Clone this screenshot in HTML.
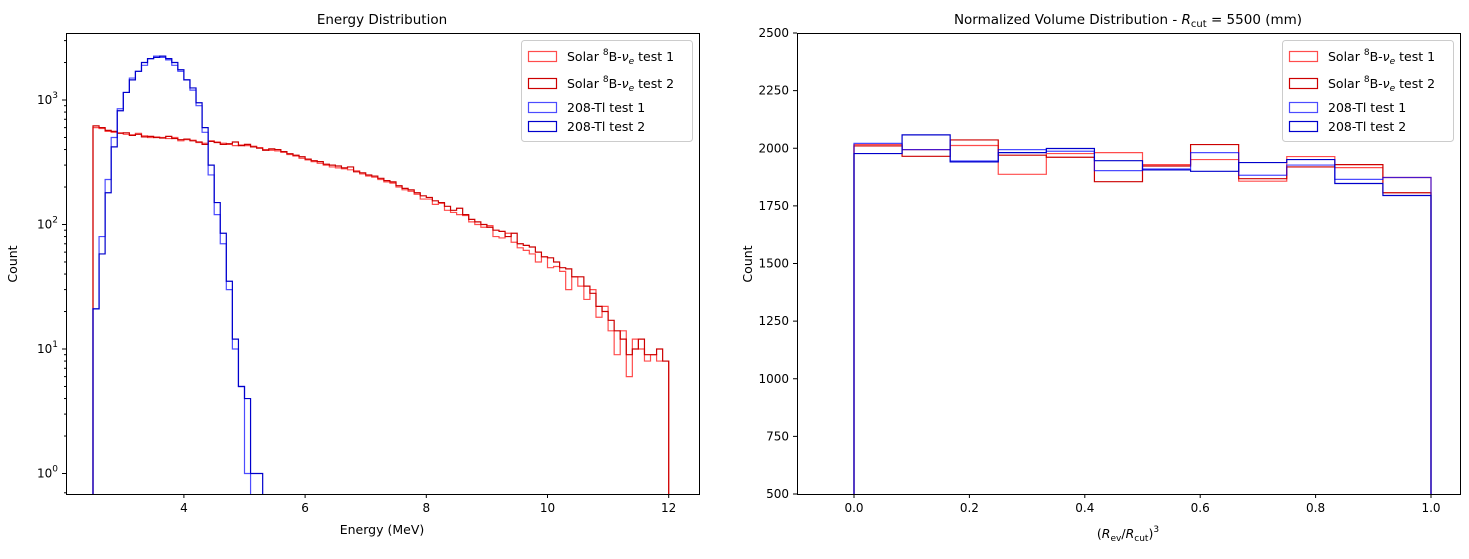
<!DOCTYPE html>
<html><head><meta charset="utf-8"><style>
body{margin:0;background:#fff;}
svg text{font-family:"DejaVu Sans","Liberation Sans",sans-serif;fill:#000;}
</style></head><body>
<svg id="fig" width="1469" height="554" xmlns="http://www.w3.org/2000/svg">
<rect width="1469" height="554" fill="#fff"/>
</svg>
<script>
// ---- data: energy histogram (bins of 0.1 MeV starting at 2.5)
const eStart = 2.5, eWidth = 0.1;
const solar1 = [600,590,560,550,545,530,525,540,515,500,505,500,490,500,470,480,475,455,450,470,460,450,440,430,435,430,425,415,400,395,390,380,365,355,340,330,320,310,300,290,285,280,275,270,255,245,240,230,220,215,200,190,185,175,160,160,145,148,130,125,120,118,105,100,95,98,80,78,85,72,65,62,58,50,55,45,46,42,30,38,32,25,30,18,22,14,9,14,6,12,10,8,9,8,8];
const solar2 = [620,600,570,560,540,545,520,530,505,510,500,495,510,490,480,485,470,460,440,465,455,440,445,460,430,440,420,410,395,405,400,385,370,360,350,335,325,320,305,300,295,285,290,265,260,250,245,235,225,220,205,195,190,180,170,165,155,150,140,130,135,120,110,105,100,95,90,88,80,85,70,68,66,60,55,54,50,45,44,38,38,32,28,22,20,17,14,12,9,10,12,9,9,10,8];
const tl1 = [21,80,230,500,850,1150,1500,1700,1900,2150,2250,2200,2100,1900,1700,1450,1200,900,550,250,120,70,30,10,5,1];
const tl2 = [21,58,180,420,820,1150,1450,1700,2000,2150,2200,2250,2150,2000,1750,1450,1250,950,600,300,150,85,35,12,5,4,1,1];
const eTicks = [4,6,8,10,12];
const logTicks = [0,1,2,3];
// ---- data: volume histogram (12 bins over 0..1)
const vol1 = [2016,1994,2012,1887,1977,1981,1929,1951,1857,1964,1916,1873];
const vol2 = [2010,1965,2036,1970,1961,1855,1923,2016,1868,1919,1929,1807];
const volTl1 = [2021,1994,1945,1994,1987,1903,1910,1981,1883,1927,1865,1873];
const volTl2 = [1977,2058,1941,1981,1999,1946,1906,1900,1938,1951,1847,1795];
const vTicksX = [0,0.2,0.4,0.6,0.8,1.0];
const vTicksY = [500,750,1000,1250,1500,1750,2000,2250,2500];

const NS="http://www.w3.org/2000/svg";
const svg=document.getElementById('fig');
function mk(tag,attrs,parent){const e=document.createElementNS(NS,tag);for(const k in attrs)e.setAttribute(k,attrs[k]);(parent||svg).appendChild(e);return e;}

const L={x0:66,x1:699,y0:33,y1:494};
const ex=e=>93+(e-2.5)*60.6;
const ly=v=>100-124.5*(Math.log10(v)-3);
const R={x0:797,x1:1460,y0:33,y1:494};
const vx=v=>854+577*v;
const vy=v=>494-(v-500)*(461/2000);

function stepPath(vals,start,w,fx,fy,base){
  let d='M'+fx(start)+','+base;
  vals.forEach((v,i)=>{const y=v>0?Math.min(fy(v),base):base;d+=' L'+fx(start+i*w)+','+y+' L'+fx(start+(i+1)*w)+','+y;});
  d+=' L'+fx(start+vals.length*w)+','+base;
  return d;
}
const clipL=mk('clipPath',{id:'cl'});mk('rect',{x:L.x0,y:L.y0,width:L.x1-L.x0,height:L.y1-L.y0},clipL);
const clipR=mk('clipPath',{id:'cr'});mk('rect',{x:R.x0,y:R.y0,width:R.x1-R.x0,height:R.y1-R.y0},clipR);

const styles=[{c:'rgba(255,0,0,0.7)'},{c:'#cc0000'},{c:'rgba(0,0,255,0.7)'},{c:'#0000cc'}];
const gL=mk('g',{'clip-path':'url(#cl)'});


[[solar1,'solar-test1-energy-hist'],[solar2,'solar-test2-energy-hist'],[tl1,'tl208-test1-energy-hist'],[tl2,'tl208-test2-energy-hist']].forEach((s,i)=>{
  const p=mk('path',{d:stepPath(s[0],eStart,eWidth,ex,ly,L.y1),fill:'none',stroke:styles[i].c,'stroke-width':1.2},gL);
  
  
});
const gR=mk('g',{'clip-path':'url(#cr)'});


[[vol1,'solar-test1-volume-hist'],[vol2,'solar-test2-volume-hist'],[volTl1,'tl208-test1-volume-hist'],[volTl2,'tl208-test2-volume-hist']].forEach((s,i)=>{
  const p=mk('path',{d:stepPath(s[0],0,1/12,vx,vy,R.y1),fill:'none',stroke:styles[i].c,'stroke-width':1.2},gR);
  
  
});

[L,R].forEach((a,i)=>{const r=mk('rect',{x:a.x0+0.5,y:a.y0+0.5,width:a.x1-a.x0,height:a.y1-a.y0,fill:'none',stroke:'#000','stroke-width':1});

});

eTicks.forEach(t=>{const x=ex(t);mk('line',{x1:x,x2:x,y1:L.y1,y2:L.y1+4,stroke:'#000'});
const tx=mk('text',{x:x,y:L.y1+18,'text-anchor':'middle','font-size':12});tx.textContent=t;

});
logTicks.forEach(p=>{const y=ly(Math.pow(10,p));mk('line',{x1:L.x0-4,x2:L.x0,y1:y,y2:y,stroke:'#000'});
const tx=mk('text',{x:L.x0-8,y:y+4,'text-anchor':'end','font-size':12});


tx.appendChild(document.createTextNode('10'));const s=mk('tspan',{dy:-6,'font-size':9},tx);s.textContent=p;
for(let m=2;m<10;m++){const yy=ly(m*Math.pow(10,p));if(yy>L.y0&&yy<L.y1)mk('line',{x1:L.x0-2,x2:L.x0,y1:yy,y2:yy,stroke:'#000'});}});
{const yy=ly(0.7);mk('line',{x1:L.x0-2,x2:L.x0,y1:yy,y2:yy,stroke:'#000'});}
vTicksX.forEach(t=>{const x=vx(t);mk('line',{x1:x,x2:x,y1:R.y1,y2:R.y1+4,stroke:'#000'});
const tx=mk('text',{x:x,y:R.y1+18,'text-anchor':'middle','font-size':12});tx.textContent=t.toFixed(1);

});
vTicksY.forEach(t=>{const y=vy(t);mk('line',{x1:R.x0-4,x2:R.x0,y1:y,y2:y,stroke:'#000'});
const tx=mk('text',{x:R.x0-8,y:y+4,'text-anchor':'end','font-size':12});tx.textContent=t;

});

function legend(x,y,name){
  const g=mk('g',{});
  
  
  mk('rect',{x:x+0.5,y:y+0.5,width:171,height:101,rx:3,fill:'#fff','fill-opacity':0.8,stroke:'#ccc'},g);
  const labels=[['Solar ','8','B-','ν','e',' test 1'],['Solar ','8','B-','ν','e',' test 2'],['208-Tl test 1'],['208-Tl test 2']];
  const ys=[16,43,67,86];
  labels.forEach((lb,i)=>{
    const cy=y+ys[i];
    mk('rect',{x:x+7.5,y:cy-4.5,width:28,height:10,fill:'none',stroke:styles[i].c,'stroke-width':1.2},g);
    const t=mk('text',{x:x+46,y:cy+5,'font-size':12.5},g);
    
    
    if(lb.length===1){t.textContent=lb[0];}
    else{t.appendChild(document.createTextNode(lb[0]));
      let s=mk('tspan',{dy:-6,'font-size':9},t);s.textContent=lb[1];
      s=mk('tspan',{dy:6},t);s.textContent=lb[2];
      s=mk('tspan',{'font-style':'italic'},t);s.textContent=lb[3];
      s=mk('tspan',{dy:3,'font-size':9,'font-style':'italic'},t);s.textContent=lb[4];
      s=mk('tspan',{dy:-3},t);s.textContent=lb[5];}
  });
}
legend(521,40,'energy-legend');
legend(1282,40,'volume-legend');

function txt(x,y,s,name,extra){const t=mk('text',Object.assign({x:x,y:y,'text-anchor':'middle','font-size':12.5},extra||{}));t.textContent=s;

return t;}
txt(382,24,'Energy Distribution','energy-title',{'font-size':13.5});
txt(382,534,'Energy (MeV)','energy-x-axis-title');
txt(17,264,'Count','energy-y-axis-title',{transform:'rotate(-90 17 264)'});
txt(752,264,'Count','volume-y-axis-title',{transform:'rotate(-90 752 264)'});
{const t=mk('text',{x:1128,y:24,'text-anchor':'middle','font-size':13.5});


t.appendChild(document.createTextNode('Normalized Volume Distribution - '));
let s=mk('tspan',{'font-style':'italic'},t);s.textContent='R';
s=mk('tspan',{dy:3,'font-size':10},t);s.textContent='cut';
s=mk('tspan',{dy:-3},t);s.textContent=' = 5500 (mm)';}
{const t=mk('text',{x:1128,y:538,'text-anchor':'middle','font-size':12.5});


t.appendChild(document.createTextNode('('));
let s=mk('tspan',{'font-style':'italic'},t);s.textContent='R';
s=mk('tspan',{dy:3,'font-size':9},t);s.textContent='ev';
s=mk('tspan',{dy:-3},t);s.textContent='/';
s=mk('tspan',{'font-style':'italic'},t);s.textContent='R';
s=mk('tspan',{dy:3,'font-size':9},t);s.textContent='cut';
s=mk('tspan',{dy:-3},t);s.textContent=')';
s=mk('tspan',{dy:-6,'font-size':9},t);s.textContent='3';}
</script>
</body></html>
